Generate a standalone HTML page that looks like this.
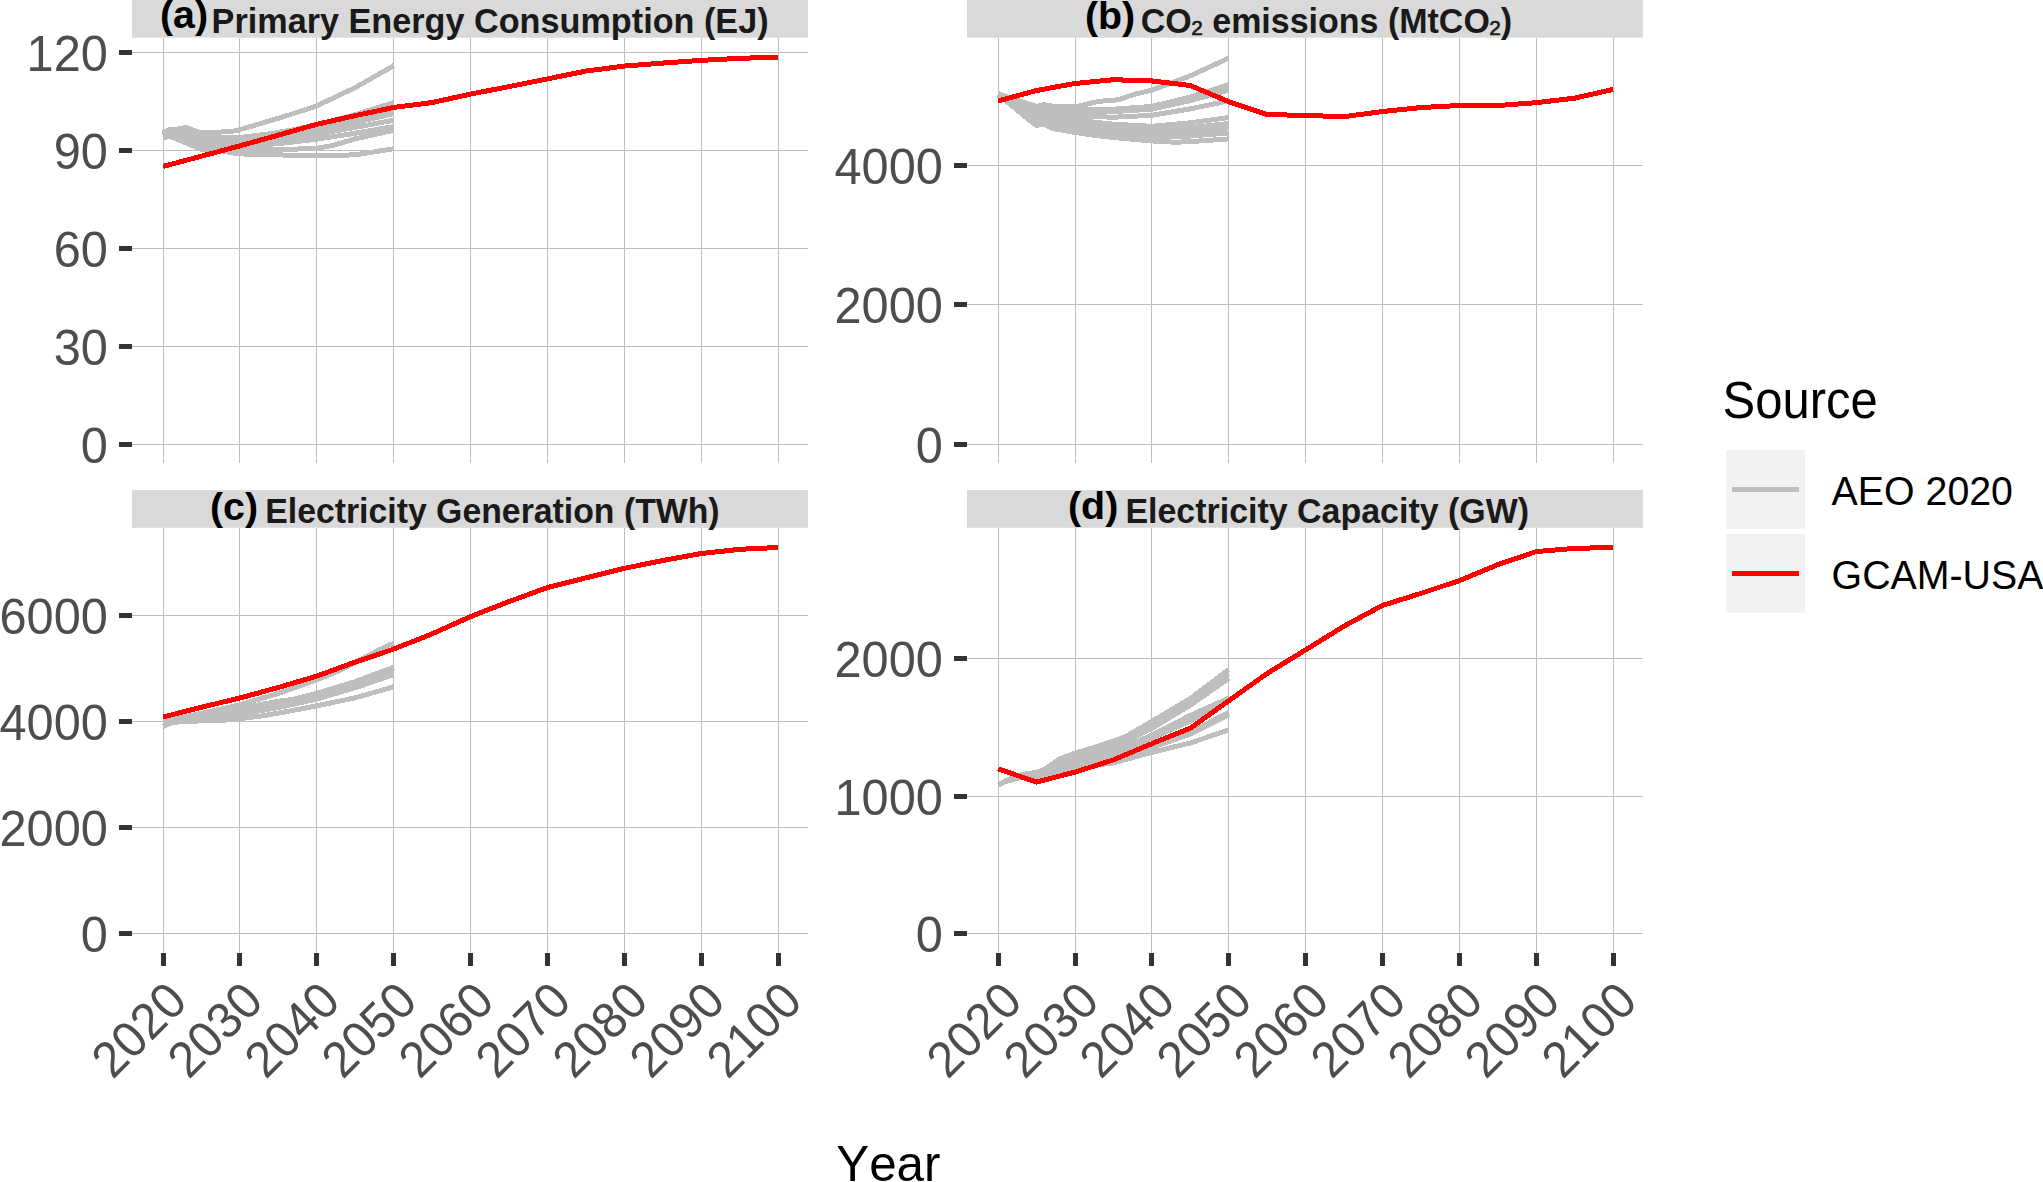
<!DOCTYPE html>
<html lang="en"><head><meta charset="utf-8"><title>GCAM-USA vs AEO 2020</title>
<style>html,body{margin:0;padding:0;background:#fff}svg{display:block}text{font-family:"Liberation Sans", sans-serif;font-kerning:none;font-variant-ligatures:none}</style></head><body>
<svg width="2043" height="1182" viewBox="0 0 2043 1182" role="img" aria-label="GCAM-USA projections compared with AEO 2020 scenarios">
<rect x="0" y="0" width="2043" height="1182" fill="#FFFFFF"/>
<g id="panel-a">
<g stroke="#BEBEBE" stroke-width="1" shape-rendering="crispEdges" fill="none">
<line x1="132" y1="444.5" x2="807.9" y2="444.5"/>
<line x1="132" y1="346.5" x2="807.9" y2="346.5"/>
<line x1="132" y1="248.5" x2="807.9" y2="248.5"/>
<line x1="132" y1="150.5" x2="807.9" y2="150.5"/>
<line x1="132" y1="52.5" x2="807.9" y2="52.5"/>
<line x1="163.5" y1="37.7" x2="163.5" y2="462.7"/>
<line x1="239.5" y1="37.7" x2="239.5" y2="462.7"/>
<line x1="316.5" y1="37.7" x2="316.5" y2="462.7"/>
<line x1="393.5" y1="37.7" x2="393.5" y2="462.7"/>
<line x1="470.5" y1="37.7" x2="470.5" y2="462.7"/>
<line x1="547.5" y1="37.7" x2="547.5" y2="462.7"/>
<line x1="624.5" y1="37.7" x2="624.5" y2="462.7"/>
<line x1="701.5" y1="37.7" x2="701.5" y2="462.7"/>
<line x1="778.5" y1="37.7" x2="778.5" y2="462.7"/>
</g>
<g fill="none" stroke-width="5.0" stroke-linejoin="round" stroke-linecap="butt" shape-rendering="crispEdges">
<path stroke="#BEBEBE" d="M163.05,132.92 L170.74,129 L178.43,129 L186.12,127.53 L193.81,130.31 L201.5,132.92 L209.19,132.59 L216.88,132.27 L224.57,131.78 L232.26,131.45 L239.95,129.66 L247.64,127.37 L255.33,125.08 L263.02,122.8 L270.71,120.51 L278.4,118.23 L286.09,115.94 L293.78,113.41 L301.47,110.88 L309.16,108.35 L316.85,105.82 L324.54,102.16 L332.23,98.5 L339.92,94.85 L347.61,91.19 L355.3,87.53 L362.99,83.16 L370.68,78.78 L378.37,74.4 L386.06,70.03 L393.75,65.65"/>
<path stroke="#BEBEBE" d="M163.05,133.57 L170.74,129.98 L178.43,129.98 L186.12,129.66 L193.81,132.92 L201.5,135.86 L209.19,136.68 L216.88,137.49 L224.57,137.49 L232.26,137.49 L239.95,137.49 L247.64,136.55 L255.33,135.62 L263.02,134.68 L270.71,133.74 L278.4,132.38 L286.09,131.02 L293.78,129.66 L301.47,128.02 L309.16,126.39 L316.85,124.76 L324.54,122.73 L332.23,120.71 L339.92,118.68 L347.61,116.66 L355.3,114.63 L362.99,112.22 L370.68,109.8 L378.37,107.39 L386.06,104.97 L393.75,102.55"/>
<path stroke="#BEBEBE" d="M163.05,134.23 L170.74,130.96 L178.43,130.96 L186.12,131.62 L193.81,134.88 L201.5,137.82 L209.19,138.64 L216.88,139.45 L224.57,139.45 L232.26,139.45 L239.95,139.45 L247.64,138.73 L255.33,138.02 L263.02,137.3 L270.71,136.58 L278.4,135.86 L286.09,134.49 L293.78,133.12 L301.47,131.75 L309.16,130.37 L316.85,129 L324.54,127.24 L332.23,125.48 L339.92,123.71 L347.61,121.95 L355.3,120.19 L362.99,118.42 L370.68,116.66 L378.37,114.9 L386.06,113.13 L393.75,111.37"/>
<path stroke="#BEBEBE" d="M163.05,134.88 L170.74,131.62 L178.43,132.27 L186.12,133.57 L193.81,136.51 L201.5,139.45 L209.19,140.27 L216.88,141.09 L224.57,141.09 L232.26,141.09 L239.95,141.09 L247.64,140.37 L255.33,139.65 L263.02,138.93 L270.71,138.21 L278.4,137.49 L286.09,136.19 L293.78,134.88 L301.47,133.57 L309.16,132.27 L316.85,130.96 L324.54,129.26 L332.23,127.57 L339.92,125.87 L347.61,124.17 L355.3,122.47 L362.99,120.71 L370.68,118.94 L378.37,117.18 L386.06,115.42 L393.75,113.65"/>
<path stroke="#BEBEBE" d="M163.05,135.53 L170.74,132.59 L178.43,133.57 L186.12,135.53 L193.81,138.47 L201.5,141.09 L209.19,141.9 L216.88,142.72 L224.57,142.83 L232.26,142.94 L239.95,143.04 L247.64,142.39 L255.33,141.74 L263.02,141.09 L270.71,140.43 L278.4,139.78 L286.09,138.67 L293.78,137.56 L301.47,136.45 L309.16,135.34 L316.85,134.23 L324.54,132.86 L332.23,131.48 L339.92,130.11 L347.61,128.74 L355.3,127.37 L362.99,125.93 L370.68,124.5 L378.37,123.06 L386.06,121.62 L393.75,120.19"/>
<path stroke="#BEBEBE" d="M163.05,136.19 L170.74,133.57 L178.43,135.53 L186.12,138.15 L193.81,141.09 L201.5,143.7 L209.19,144.68 L216.88,145.66 L224.57,145.77 L232.26,145.87 L239.95,145.98 L247.64,145.53 L255.33,145.07 L263.02,144.61 L270.71,144.15 L278.4,143.7 L286.09,142.78 L293.78,141.87 L301.47,140.95 L309.16,140.04 L316.85,139.13 L324.54,137.95 L332.23,136.77 L339.92,135.6 L347.61,134.42 L355.3,133.25 L362.99,131.91 L370.68,130.57 L378.37,129.23 L386.06,127.89 L393.75,126.55"/>
<path stroke="#BEBEBE" d="M163.05,136.84 L170.74,134.55 L178.43,137.49 L186.12,140.76 L193.81,144.02 L201.5,146.64 L209.19,147.45 L216.88,148.27 L224.57,148.6 L232.26,148.92 L239.95,149.25 L247.64,149.36 L255.33,149.47 L263.02,149.58 L270.71,149.58 L278.4,149.58 L286.09,149.36 L293.78,149.14 L301.47,148.92 L309.16,148.6 L316.85,148.27 L324.54,146.96 L332.23,145.66 L339.92,143.37 L347.61,141.09 L355.3,138.8 L362.99,137.1 L370.68,135.4 L378.37,133.71 L386.06,132.01 L393.75,130.31"/>
<path stroke="#BEBEBE" d="M163.05,137.49 L170.74,136.51 L178.43,139.78 L186.12,143.04 L193.81,146.31 L201.5,149.48 L209.19,149.9 L216.88,150.56 L224.57,151.21 L232.26,152.84 L239.95,153.82 L247.64,154.21 L255.33,154.6 L263.02,154.67 L270.71,154.73 L278.4,154.8 L286.09,155.13 L293.78,155.45 L301.47,155.78 L309.16,155.78 L316.85,155.78 L324.54,155.78 L332.23,155.53 L339.92,155.29 L347.61,155.05 L355.3,154.8 L362.99,153.6 L370.68,152.41 L378.37,151.21 L386.06,149.98 L393.75,148.76"/>
<path stroke="#FF0000" d="M163.05,166.43 L201.5,156.17 L239.95,145.82 L278.4,135.11 L316.85,124.27 L355.3,115.61 L393.75,107.45 L432.2,102.55 L470.65,94.06 L509.1,86.65 L547.55,78.88 L586,71.04 L624.45,66.08 L662.9,63.04 L701.35,60.36 L739.8,58.3 L778.25,57.16"/>
</g>
<rect x="132" y="0" width="675.9" height="37.7" fill="#D9D9D9"/>
<text transform="translate(159.95,27.7) scale(1.02,1)" font-size="38.6" font-weight="bold" fill="#000000">(a)</text>
<text transform="translate(211.6,32.7) scale(1.0067,1.04)" font-size="34.0" font-weight="bold" fill="#1A1A1A">Primary Energy Consumption (EJ)</text>
<g fill="#333333" shape-rendering="crispEdges">
<rect x="119" y="442" width="13" height="5"/>
<rect x="119" y="344" width="13" height="5"/>
<rect x="119" y="246" width="13" height="5"/>
<rect x="119" y="148" width="13" height="5"/>
<rect x="119" y="50" width="13" height="5"/>
</g>
<g font-size="48.7" fill="#4D4D4D" text-anchor="end">
<text transform="translate(107.8,462.9) scale(1,1.04)">0</text>
<text transform="translate(107.8,364.9) scale(1,1.04)">30</text>
<text transform="translate(107.8,266.9) scale(1,1.04)">60</text>
<text transform="translate(107.8,168.9) scale(1,1.04)">90</text>
<text transform="translate(107.8,70.9) scale(1,1.04)">120</text>
</g>
</g>
<g id="panel-b">
<g stroke="#BEBEBE" stroke-width="1" shape-rendering="crispEdges" fill="none">
<line x1="967" y1="444.5" x2="1642.9" y2="444.5"/>
<line x1="967" y1="304.5" x2="1642.9" y2="304.5"/>
<line x1="967" y1="165.5" x2="1642.9" y2="165.5"/>
<line x1="998.5" y1="37.7" x2="998.5" y2="462.7"/>
<line x1="1075.5" y1="37.7" x2="1075.5" y2="462.7"/>
<line x1="1151.5" y1="37.7" x2="1151.5" y2="462.7"/>
<line x1="1228.5" y1="37.7" x2="1228.5" y2="462.7"/>
<line x1="1305.5" y1="37.7" x2="1305.5" y2="462.7"/>
<line x1="1382.5" y1="37.7" x2="1382.5" y2="462.7"/>
<line x1="1459.5" y1="37.7" x2="1459.5" y2="462.7"/>
<line x1="1536.5" y1="37.7" x2="1536.5" y2="462.7"/>
<line x1="1613.5" y1="37.7" x2="1613.5" y2="462.7"/>
</g>
<g fill="none" stroke-width="5.0" stroke-linejoin="round" stroke-linecap="butt" shape-rendering="crispEdges">
<path stroke="#BEBEBE" d="M998.05,93.67 L1005.74,96.32 L1013.43,99.11 L1021.12,101.55 L1028.81,103.99 L1036.5,106.3 L1044.19,104.62 L1051.88,106.09 L1059.57,106.64 L1067.26,106.82 L1074.95,106.99 L1082.64,105.15 L1090.33,103.3 L1098.02,101.55 L1105.71,100.72 L1113.4,100.48 L1121.09,98.94 L1128.78,96.07 L1136.47,93.82 L1144.16,91.97 L1151.85,90.12 L1159.54,87.27 L1167.23,84.42 L1174.92,81.58 L1182.61,78.73 L1190.3,75.89 L1197.99,72.33 L1205.68,68.77 L1213.37,65.22 L1221.06,61.66 L1228.75,58.1"/>
<path stroke="#BEBEBE" d="M998.05,93.53 L1005.74,96.5 L1013.43,99.46 L1021.12,102.02 L1028.81,104.58 L1036.5,107.13 L1044.19,108 L1051.88,108.88 L1059.57,109.11 L1067.26,109.34 L1074.95,109.57 L1082.64,109.5 L1090.33,109.43 L1098.02,109.36 L1105.71,109.3 L1113.4,109.23 L1121.09,108.67 L1128.78,108.11 L1136.47,107.55 L1144.16,106.99 L1151.85,106.44 L1159.54,104.58 L1167.23,102.73 L1174.92,100.87 L1182.61,99.01 L1190.3,97.16 L1197.99,94.65 L1205.68,92.14 L1213.37,89.63 L1221.06,87.12 L1228.75,84.61"/>
<path stroke="#BEBEBE" d="M998.05,93.53 L1005.74,96.85 L1013.43,100.16 L1021.12,102.95 L1028.81,105.74 L1036.5,108.53 L1044.19,109.75 L1051.88,110.97 L1059.57,111.32 L1067.26,111.67 L1074.95,112.02 L1082.64,111.95 L1090.33,111.88 L1098.02,111.81 L1105.71,111.74 L1113.4,111.67 L1121.09,111.16 L1128.78,110.66 L1136.47,110.16 L1144.16,109.66 L1151.85,109.16 L1159.54,107.44 L1167.23,105.72 L1174.92,104.01 L1182.61,102.29 L1190.3,100.58 L1197.99,98.5 L1205.68,96.42 L1213.37,94.34 L1221.06,92.26 L1228.75,90.18"/>
<path stroke="#BEBEBE" d="M998.05,93.88 L1005.74,97.54 L1013.43,101.2 L1021.12,104.34 L1028.81,107.48 L1036.5,110.62 L1044.19,111.67 L1051.88,112.71 L1059.57,113.76 L1067.26,114.8 L1074.95,115.85 L1082.64,116.13 L1090.33,116.41 L1098.02,116.69 L1105.71,116.97 L1113.4,117.25 L1121.09,116.86 L1128.78,116.46 L1136.47,116.07 L1144.16,115.68 L1151.85,115.29 L1159.54,114.01 L1167.23,112.73 L1174.92,111.44 L1182.61,110.16 L1190.3,108.88 L1197.99,107.27 L1205.68,105.67 L1213.37,104.06 L1221.06,102.46 L1228.75,100.86"/>
<path stroke="#BEBEBE" d="M998.05,93.88 L1005.74,98.07 L1013.43,102.25 L1021.12,105.74 L1028.81,109.23 L1036.5,112.71 L1044.19,114.18 L1051.88,115.64 L1059.57,117.11 L1067.26,118.57 L1074.95,120.04 L1082.64,120.87 L1090.33,121.71 L1098.02,122.55 L1105.71,123.38 L1113.4,124.22 L1121.09,124.64 L1128.78,125.06 L1136.47,125.48 L1144.16,125.89 L1151.85,126.31 L1159.54,125.62 L1167.23,124.92 L1174.92,124.22 L1182.61,123.52 L1190.3,122.83 L1197.99,121.77 L1205.68,120.71 L1213.37,119.65 L1221.06,118.59 L1228.75,117.52"/>
<path stroke="#BEBEBE" d="M998.05,94.23 L1005.74,98.59 L1013.43,102.95 L1021.12,106.9 L1028.81,110.85 L1036.5,114.8 L1044.19,116.55 L1051.88,118.29 L1059.57,120.04 L1067.26,121.78 L1074.95,123.52 L1082.64,124.36 L1090.33,125.2 L1098.02,126.03 L1105.71,126.87 L1113.4,127.71 L1121.09,128.11 L1128.78,128.52 L1136.47,128.92 L1144.16,129.33 L1151.85,129.73 L1159.54,129.33 L1167.23,128.92 L1174.92,128.52 L1182.61,128.11 L1190.3,127.71 L1197.99,126.87 L1205.68,126.03 L1213.37,125.2 L1221.06,124.36 L1228.75,123.52"/>
<path stroke="#BEBEBE" d="M998.05,94.23 L1005.74,99.11 L1013.43,103.99 L1021.12,108.53 L1028.81,113.06 L1036.5,117.59 L1044.19,119.48 L1051.88,121.36 L1059.57,123.24 L1067.26,125.13 L1074.95,127.01 L1082.64,127.92 L1090.33,128.82 L1098.02,129.73 L1105.71,130.64 L1113.4,131.54 L1121.09,131.89 L1128.78,132.24 L1136.47,132.59 L1144.16,132.94 L1151.85,133.29 L1159.54,132.94 L1167.23,132.59 L1174.92,132.24 L1182.61,131.89 L1190.3,131.54 L1197.99,130.8 L1205.68,130.07 L1213.37,129.33 L1221.06,128.59 L1228.75,127.85"/>
<path stroke="#BEBEBE" d="M998.05,94.58 L1005.74,99.81 L1013.43,105.04 L1021.12,110.79 L1028.81,116.55 L1036.5,121.78 L1044.19,120.04 L1051.88,123.52 L1059.57,125.5 L1067.26,127.48 L1074.95,129.45 L1082.64,130.57 L1090.33,131.68 L1098.02,132.8 L1105.71,133.92 L1113.4,135.03 L1121.09,135.45 L1128.78,135.87 L1136.47,136.29 L1144.16,136.7 L1151.85,137.12 L1159.54,136.91 L1167.23,136.7 L1174.92,136.5 L1182.61,136.29 L1190.3,136.08 L1197.99,135.45 L1205.68,134.82 L1213.37,134.19 L1221.06,133.57 L1228.75,132.94"/>
<path stroke="#BEBEBE" d="M998.05,94.93 L1005.74,100.82 L1013.43,106.83 L1021.12,113.35 L1028.81,119.87 L1036.5,125.41 L1044.19,124.16 L1051.88,128.4 L1059.57,129.75 L1067.26,131.09 L1074.95,132.41 L1082.64,133.57 L1090.33,134.73 L1098.02,135.74 L1105.71,136.61 L1113.4,137.47 L1121.09,138.17 L1128.78,138.87 L1136.47,139.56 L1144.16,140.26 L1151.85,140.96 L1159.54,141.38 L1167.23,141.8 L1174.92,142.21 L1182.61,141.94 L1190.3,141.66 L1197.99,141.1 L1205.68,140.54 L1213.37,139.98 L1221.06,139.42 L1228.75,138.87"/>
<path stroke="#FF0000" d="M998.05,101 L1036.5,90.53 L1074.95,83.49 L1113.4,79.72 L1151.85,80.91 L1190.3,85.51 L1228.75,101.69 L1267.2,114.46 L1305.65,115.5 L1344.1,116.62 L1382.55,111.53 L1421,107.55 L1459.45,105.53 L1497.9,105.53 L1536.35,102.67 L1574.8,98.14 L1613.25,89.35"/>
</g>
<rect x="967" y="0" width="675.9" height="37.7" fill="#D9D9D9"/>
<text transform="translate(1084.95,28.7) scale(1.02,1)" font-size="38.6" font-weight="bold" fill="#000000">(b)</text>
<text transform="translate(1140.8,32.7) scale(1.0,1.04)" font-size="34.0" font-weight="bold" fill="#1A1A1A">CO<tspan font-weight="normal" font-size="32.5" stroke="#1A1A1A" stroke-width="0.7" dx="-1.0" dy="-1.0">₂</tspan><tspan dx="-0.6" dy="1.0"> emissions (MtCO</tspan><tspan font-weight="normal" font-size="32.5" stroke="#1A1A1A" stroke-width="0.7" dx="-1.0" dy="-1.0">₂</tspan><tspan dx="-0.6" dy="1.0">)</tspan></text>
<g fill="#333333" shape-rendering="crispEdges">
<rect x="954" y="442" width="13" height="5"/>
<rect x="954" y="302" width="13" height="5"/>
<rect x="954" y="163" width="13" height="5"/>
</g>
<g font-size="48.7" fill="#4D4D4D" text-anchor="end">
<text transform="translate(942.8,462.9) scale(1,1.04)">0</text>
<text transform="translate(942.8,322.9) scale(1,1.04)">2000</text>
<text transform="translate(942.8,183.9) scale(1,1.04)">4000</text>
</g>
</g>
<g id="panel-c">
<g stroke="#BEBEBE" stroke-width="1" shape-rendering="crispEdges" fill="none">
<line x1="132" y1="933.5" x2="807.9" y2="933.5"/>
<line x1="132" y1="827.5" x2="807.9" y2="827.5"/>
<line x1="132" y1="721.5" x2="807.9" y2="721.5"/>
<line x1="132" y1="615.5" x2="807.9" y2="615.5"/>
<line x1="163.5" y1="527.8" x2="163.5" y2="952.8"/>
<line x1="239.5" y1="527.8" x2="239.5" y2="952.8"/>
<line x1="316.5" y1="527.8" x2="316.5" y2="952.8"/>
<line x1="393.5" y1="527.8" x2="393.5" y2="952.8"/>
<line x1="470.5" y1="527.8" x2="470.5" y2="952.8"/>
<line x1="547.5" y1="527.8" x2="547.5" y2="952.8"/>
<line x1="624.5" y1="527.8" x2="624.5" y2="952.8"/>
<line x1="701.5" y1="527.8" x2="701.5" y2="952.8"/>
<line x1="778.5" y1="527.8" x2="778.5" y2="952.8"/>
</g>
<g fill="none" stroke-width="5.0" stroke-linejoin="round" stroke-linecap="butt" shape-rendering="crispEdges">
<path stroke="#BEBEBE" d="M163.05,721.32 L170.74,719.72 L178.43,718.12 L186.12,716.52 L193.81,714.91 L201.5,713.31 L209.19,711.6 L216.88,709.9 L224.57,708.19 L232.26,706.48 L239.95,704.77 L247.64,702.5 L255.33,700.23 L263.02,697.96 L270.71,695.69 L278.4,693.42 L286.09,690.7 L293.78,687.97 L301.47,685.25 L309.16,682.52 L316.85,679.79 L324.54,676.66 L332.23,673.54 L339.92,670.41 L347.61,666.43 L355.3,662.45 L362.99,658.39 L370.68,654.32 L378.37,650.25 L386.06,646.75 L393.75,643.25"/>
<path stroke="#BEBEBE" d="M163.05,722.12 L170.74,720.79 L178.43,719.46 L186.12,718.14 L193.81,716.81 L201.5,715.49 L209.19,714.11 L216.88,712.73 L224.57,711.35 L232.26,709.97 L239.95,708.59 L247.64,707.11 L255.33,705.62 L263.02,704.14 L270.71,702.65 L278.4,701.17 L286.09,700.39 L293.78,699.04 L301.47,697.11 L309.16,695.19 L316.85,693.26 L324.54,690.93 L332.23,688.6 L339.92,686.26 L347.61,683.93 L355.3,681.6 L362.99,678.72 L370.68,675.85 L378.37,672.97 L386.06,670.1 L393.75,667.22"/>
<path stroke="#BEBEBE" d="M163.05,722.65 L170.74,721.43 L178.43,720.21 L186.12,718.99 L193.81,717.77 L201.5,716.55 L209.19,715.33 L216.88,714.11 L224.57,712.89 L232.26,711.67 L239.95,710.45 L247.64,709.02 L255.33,707.58 L263.02,706.15 L270.71,704.72 L278.4,703.29 L286.09,701.64 L293.78,700 L301.47,698.36 L309.16,696.71 L316.85,695.07 L324.54,692.79 L332.23,690.51 L339.92,688.23 L347.61,685.95 L355.3,683.67 L362.99,680.85 L370.68,678.04 L378.37,675.23 L386.06,672.42 L393.75,669.61"/>
<path stroke="#BEBEBE" d="M163.05,723.18 L170.74,722.06 L178.43,720.95 L186.12,719.84 L193.81,718.72 L201.5,717.61 L209.19,716.55 L216.88,715.49 L224.57,714.43 L232.26,713.36 L239.95,712.3 L247.64,710.93 L255.33,709.55 L263.02,708.17 L270.71,706.79 L278.4,705.41 L286.09,703.71 L293.78,702.02 L301.47,700.32 L309.16,698.62 L316.85,696.92 L324.54,694.64 L332.23,692.36 L339.92,690.08 L347.61,687.8 L355.3,685.52 L362.99,682.82 L370.68,680.11 L378.37,677.41 L386.06,674.7 L393.75,672"/>
<path stroke="#BEBEBE" d="M163.05,723.71 L170.74,722.7 L178.43,721.69 L186.12,720.68 L193.81,719.68 L201.5,718.67 L209.19,717.82 L216.88,716.97 L224.57,716.12 L232.26,715.27 L239.95,714.43 L247.64,713.05 L255.33,711.67 L263.02,710.29 L270.71,708.91 L278.4,707.53 L286.09,705.83 L293.78,704.14 L301.47,702.44 L309.16,700.74 L316.85,699.05 L324.54,696.76 L332.23,694.48 L339.92,692.2 L347.61,689.92 L355.3,687.64 L362.99,685.04 L370.68,682.45 L378.37,679.85 L386.06,677.25 L393.75,674.65"/>
<path stroke="#BEBEBE" d="M163.05,726.52 L170.74,723.18 L178.43,721.96 L186.12,721.59 L193.81,721.21 L201.5,720.84 L209.19,720.61 L216.88,720.38 L224.57,720.15 L232.26,719.41 L239.95,718.67 L247.64,717.7 L255.33,716.72 L263.02,715.75 L270.71,714.43 L278.4,713.1 L286.09,711.77 L293.78,710.28 L301.47,708.78 L309.16,707.28 L316.85,705.78 L324.54,704.19 L332.23,702.6 L339.92,701.01 L347.61,699.42 L355.3,697.83 L362.99,695.61 L370.68,693.39 L378.37,691.17 L386.06,688.96 L393.75,686.74"/>
<path stroke="#FF0000" d="M163.05,717.02 L201.5,707.21 L239.95,697.98 L278.4,687.48 L316.85,676.08 L355.3,662.03 L393.75,649.09 L432.2,633.76 L470.65,616.58 L509.1,601.51 L547.55,587.51 L586,577.81 L624.45,568.31 L662.9,560.52 L701.35,553.52 L739.8,549.33 L778.25,547.47"/>
</g>
<rect x="132" y="490.1" width="675.9" height="37.7" fill="#D9D9D9"/>
<text transform="translate(209.95,519.5) scale(1.02,1)" font-size="38.6" font-weight="bold" fill="#000000">(c)</text>
<text transform="translate(265.2,522.8) scale(0.9942,1.04)" font-size="34.0" font-weight="bold" fill="#1A1A1A">Electricity Generation (TWh)</text>
<g fill="#333333" shape-rendering="crispEdges">
<rect x="119" y="931" width="13" height="5"/>
<rect x="119" y="825" width="13" height="5"/>
<rect x="119" y="719" width="13" height="5"/>
<rect x="119" y="613" width="13" height="5"/>
</g>
<g font-size="48.7" fill="#4D4D4D" text-anchor="end">
<text transform="translate(107.8,951.9) scale(1,1.04)">0</text>
<text transform="translate(107.8,845.9) scale(1,1.04)">2000</text>
<text transform="translate(107.8,739.9) scale(1,1.04)">4000</text>
<text transform="translate(107.8,633.9) scale(1,1.04)">6000</text>
</g>
<g fill="#333333" shape-rendering="crispEdges">
<rect x="161" y="952.8" width="5" height="13"/>
<rect x="237" y="952.8" width="5" height="13"/>
<rect x="314" y="952.8" width="5" height="13"/>
<rect x="391" y="952.8" width="5" height="13"/>
<rect x="468" y="952.8" width="5" height="13"/>
<rect x="545" y="952.8" width="5" height="13"/>
<rect x="622" y="952.8" width="5" height="13"/>
<rect x="699" y="952.8" width="5" height="13"/>
<rect x="776" y="952.8" width="5" height="13"/>
</g>
<g font-size="48.7" fill="#4D4D4D" text-anchor="end">
<text transform="translate(189.4,1003.7) rotate(-45) scale(1,1.04)">2020</text>
<text transform="translate(265.4,1003.7) rotate(-45) scale(1,1.04)">2030</text>
<text transform="translate(342.4,1003.7) rotate(-45) scale(1,1.04)">2040</text>
<text transform="translate(419.4,1003.7) rotate(-45) scale(1,1.04)">2050</text>
<text transform="translate(496.4,1003.7) rotate(-45) scale(1,1.04)">2060</text>
<text transform="translate(573.4,1003.7) rotate(-45) scale(1,1.04)">2070</text>
<text transform="translate(650.4,1003.7) rotate(-45) scale(1,1.04)">2080</text>
<text transform="translate(727.4,1003.7) rotate(-45) scale(1,1.04)">2090</text>
<text transform="translate(804.4,1003.7) rotate(-45) scale(1,1.04)">2100</text>
</g>
</g>
<g id="panel-d">
<g stroke="#BEBEBE" stroke-width="1" shape-rendering="crispEdges" fill="none">
<line x1="967" y1="933.5" x2="1642.9" y2="933.5"/>
<line x1="967" y1="796.5" x2="1642.9" y2="796.5"/>
<line x1="967" y1="658.5" x2="1642.9" y2="658.5"/>
<line x1="998.5" y1="527.8" x2="998.5" y2="952.8"/>
<line x1="1075.5" y1="527.8" x2="1075.5" y2="952.8"/>
<line x1="1151.5" y1="527.8" x2="1151.5" y2="952.8"/>
<line x1="1228.5" y1="527.8" x2="1228.5" y2="952.8"/>
<line x1="1305.5" y1="527.8" x2="1305.5" y2="952.8"/>
<line x1="1382.5" y1="527.8" x2="1382.5" y2="952.8"/>
<line x1="1459.5" y1="527.8" x2="1459.5" y2="952.8"/>
<line x1="1536.5" y1="527.8" x2="1536.5" y2="952.8"/>
<line x1="1613.5" y1="527.8" x2="1613.5" y2="952.8"/>
</g>
<g fill="none" stroke-width="5.0" stroke-linejoin="round" stroke-linecap="butt" shape-rendering="crispEdges">
<path stroke="#BEBEBE" d="M998.05,785.34 L1005.74,780.53 L1013.43,777.57 L1021.12,774.61 L1028.81,773.51 L1036.5,772.41 L1044.19,769.39 L1051.88,764.3 L1059.57,759.07 L1067.26,756.12 L1074.95,753.16 L1082.64,750.86 L1090.33,748.55 L1098.02,746.24 L1105.71,743.73 L1113.4,741.06 L1121.09,738.4 L1128.78,734.83 L1136.47,730.35 L1144.16,725.87 L1151.85,721.39 L1159.54,716.83 L1167.23,712.26 L1174.92,707.7 L1182.61,703.13 L1190.3,698.57 L1197.99,692.76 L1205.68,686.96 L1213.37,681.16 L1221.06,675.35 L1228.75,669.55"/>
<path stroke="#BEBEBE" d="M998.05,785.34 L1005.74,780.8 L1013.43,778.05 L1021.12,775.3 L1028.81,774.27 L1036.5,773.24 L1044.19,770.63 L1051.88,766.36 L1059.57,761.55 L1067.26,758.66 L1074.95,755.77 L1082.64,753.49 L1090.33,751.21 L1098.02,748.93 L1105.71,746.64 L1113.4,744.36 L1121.09,740.51 L1128.78,736.66 L1136.47,732.81 L1144.16,728.96 L1151.85,725.11 L1159.54,720.43 L1167.23,715.76 L1174.92,711.08 L1182.61,706.4 L1190.3,701.73 L1197.99,696.17 L1205.68,690.62 L1213.37,685.06 L1221.06,679.51 L1228.75,673.95"/>
<path stroke="#BEBEBE" d="M998.05,785.34 L1005.74,780.94 L1013.43,778.4 L1021.12,775.85 L1028.81,775.03 L1036.5,774.2 L1044.19,771.66 L1051.88,769.11 L1059.57,765.58 L1067.26,762.05 L1074.95,758.52 L1082.64,756.32 L1090.33,754.12 L1098.02,751.92 L1105.71,749.72 L1113.4,747.52 L1121.09,743.73 L1128.78,739.93 L1136.47,736.14 L1144.16,732.34 L1151.85,728.55 L1159.54,723.87 L1167.23,719.19 L1174.92,714.52 L1182.61,709.84 L1190.3,705.17 L1197.99,699.8 L1205.68,694.44 L1213.37,689.08 L1221.06,683.71 L1228.75,678.35"/>
<path stroke="#BEBEBE" d="M998.05,785.34 L1005.74,781.08 L1013.43,778.67 L1021.12,776.26 L1028.81,775.65 L1036.5,775.03 L1044.19,772.33 L1051.88,769.64 L1059.57,766.94 L1067.26,764.25 L1074.95,761.55 L1082.64,759.57 L1090.33,757.59 L1098.02,755.61 L1105.71,753.63 L1113.4,751.65 L1121.09,748.35 L1128.78,745.05 L1136.47,741.75 L1144.16,738.45 L1151.85,735.15 L1159.54,731.19 L1167.23,727.23 L1174.92,723.26 L1182.61,719.3 L1190.3,715.34 L1197.99,711.91 L1205.68,708.47 L1213.37,705.03 L1221.06,701.59 L1228.75,698.15"/>
<path stroke="#BEBEBE" d="M998.05,785.34 L1005.74,781.22 L1013.43,778.88 L1021.12,776.54 L1028.81,776.06 L1036.5,775.58 L1044.19,773.18 L1051.88,770.79 L1059.57,768.4 L1067.26,766.01 L1074.95,763.61 L1082.64,761.77 L1090.33,759.93 L1098.02,758.08 L1105.71,756.24 L1113.4,754.4 L1121.09,751.15 L1128.78,747.91 L1136.47,744.66 L1144.16,741.42 L1151.85,738.17 L1159.54,734.73 L1167.23,731.3 L1174.92,727.86 L1182.61,724.42 L1190.3,720.98 L1197.99,716.72 L1205.68,712.46 L1213.37,708.19 L1221.06,703.93 L1228.75,699.67"/>
<path stroke="#BEBEBE" d="M998.05,785.34 L1005.74,781.35 L1013.43,779.08 L1021.12,776.81 L1028.81,776.47 L1036.5,776.13 L1044.19,774.04 L1051.88,771.95 L1059.57,769.86 L1067.26,767.77 L1074.95,765.68 L1082.64,764.08 L1090.33,762.49 L1098.02,760.89 L1105.71,759.29 L1113.4,757.7 L1121.09,755.03 L1128.78,752.36 L1136.47,749.7 L1144.16,747.03 L1151.85,744.36 L1159.54,741.91 L1167.23,739.46 L1174.92,737.02 L1182.61,734.57 L1190.3,732.12 L1197.99,728.19 L1205.68,724.25 L1213.37,720.32 L1221.06,716.39 L1228.75,712.46"/>
<path stroke="#BEBEBE" d="M998.05,785.34 L1005.74,781.49 L1013.43,779.29 L1021.12,777.09 L1028.81,776.81 L1036.5,776.54 L1044.19,774.59 L1051.88,772.63 L1059.57,770.68 L1067.26,768.73 L1074.95,766.78 L1082.64,765.4 L1090.33,764.03 L1098.02,762.65 L1105.71,761.27 L1113.4,759.9 L1121.09,757.42 L1128.78,754.95 L1136.47,752.47 L1144.16,750 L1151.85,747.52 L1159.54,744.83 L1167.23,742.13 L1174.92,739.44 L1182.61,736.74 L1190.3,734.05 L1197.99,730.2 L1205.68,726.34 L1213.37,722.49 L1221.06,718.64 L1228.75,714.79"/>
<path stroke="#BEBEBE" d="M998.05,785.34 L1005.74,781.49 L1013.43,779.43 L1021.12,777.36 L1028.81,777.16 L1036.5,776.95 L1044.19,775.11 L1051.88,773.27 L1059.57,771.42 L1067.26,769.58 L1074.95,767.74 L1082.64,766.78 L1090.33,765.81 L1098.02,764.85 L1105.71,763.89 L1113.4,762.93 L1121.09,760.81 L1128.78,758.69 L1136.47,756.57 L1144.16,754.45 L1151.85,752.34 L1159.54,750.47 L1167.23,748.6 L1174.92,746.73 L1182.61,744.86 L1190.3,742.98 L1197.99,740.37 L1205.68,737.76 L1213.37,735.15 L1221.06,732.53 L1228.75,729.92"/>
<path stroke="#FF0000" d="M998.05,768.84 L1036.5,782.04 L1074.95,772.14 L1113.4,759.9 L1151.85,743.67 L1190.3,728.2 L1228.75,700.77 L1267.2,673.4 L1305.65,649.88 L1344.1,626.09 L1382.55,605.4 L1421,593.36 L1459.45,580.57 L1497.9,564.62 L1536.35,551.56 L1574.8,548.39 L1613.25,547.43"/>
</g>
<rect x="967" y="490.1" width="675.9" height="37.7" fill="#D9D9D9"/>
<text transform="translate(1068,519.4) scale(1.02,1)" font-size="38.6" font-weight="bold" fill="#000000">(d)</text>
<text transform="translate(1125.4,522.8) scale(0.9985,1.04)" font-size="34.0" font-weight="bold" fill="#1A1A1A">Electricity Capacity (GW)</text>
<g fill="#333333" shape-rendering="crispEdges">
<rect x="954" y="931" width="13" height="5"/>
<rect x="954" y="794" width="13" height="5"/>
<rect x="954" y="656" width="13" height="5"/>
</g>
<g font-size="48.7" fill="#4D4D4D" text-anchor="end">
<text transform="translate(942.8,951.9) scale(1,1.04)">0</text>
<text transform="translate(942.8,814.9) scale(1,1.04)">1000</text>
<text transform="translate(942.8,676.9) scale(1,1.04)">2000</text>
</g>
<g fill="#333333" shape-rendering="crispEdges">
<rect x="996" y="952.8" width="5" height="13"/>
<rect x="1073" y="952.8" width="5" height="13"/>
<rect x="1149" y="952.8" width="5" height="13"/>
<rect x="1226" y="952.8" width="5" height="13"/>
<rect x="1303" y="952.8" width="5" height="13"/>
<rect x="1380" y="952.8" width="5" height="13"/>
<rect x="1457" y="952.8" width="5" height="13"/>
<rect x="1534" y="952.8" width="5" height="13"/>
<rect x="1611" y="952.8" width="5" height="13"/>
</g>
<g font-size="48.7" fill="#4D4D4D" text-anchor="end">
<text transform="translate(1024.4,1003.7) rotate(-45) scale(1,1.04)">2020</text>
<text transform="translate(1101.4,1003.7) rotate(-45) scale(1,1.04)">2030</text>
<text transform="translate(1177.4,1003.7) rotate(-45) scale(1,1.04)">2040</text>
<text transform="translate(1254.4,1003.7) rotate(-45) scale(1,1.04)">2050</text>
<text transform="translate(1331.4,1003.7) rotate(-45) scale(1,1.04)">2060</text>
<text transform="translate(1408.4,1003.7) rotate(-45) scale(1,1.04)">2070</text>
<text transform="translate(1485.4,1003.7) rotate(-45) scale(1,1.04)">2080</text>
<text transform="translate(1562.4,1003.7) rotate(-45) scale(1,1.04)">2090</text>
<text transform="translate(1639.4,1003.7) rotate(-45) scale(1,1.04)">2100</text>
</g>
</g>
<text transform="translate(888.3,1181.4) scale(1.01,1.035)" font-size="48.8" fill="#000000" text-anchor="middle">Year</text>
<g id="legend">
<text transform="translate(1722.6,418.4) scale(1,1.045)" font-size="49.0" fill="#000000">Source</text>
<rect x="1726" y="450" width="79" height="78.7" fill="#F2F2F2"/>
<rect x="1726" y="534" width="79" height="78.7" fill="#F2F2F2"/>
<g shape-rendering="crispEdges">
<rect x="1732" y="487" width="67" height="5" fill="#BEBEBE"/>
<rect x="1732" y="571" width="67" height="5" fill="#FF0000"/>
</g>
<text transform="translate(1831.6,505) scale(1.008,1.045)" font-size="39.0" fill="#000000">AEO 2020</text>
<text transform="translate(1831.6,588.8) scale(1.008,1.045)" font-size="39.0" fill="#000000">GCAM-USA</text>
</g>
</svg></body></html>
